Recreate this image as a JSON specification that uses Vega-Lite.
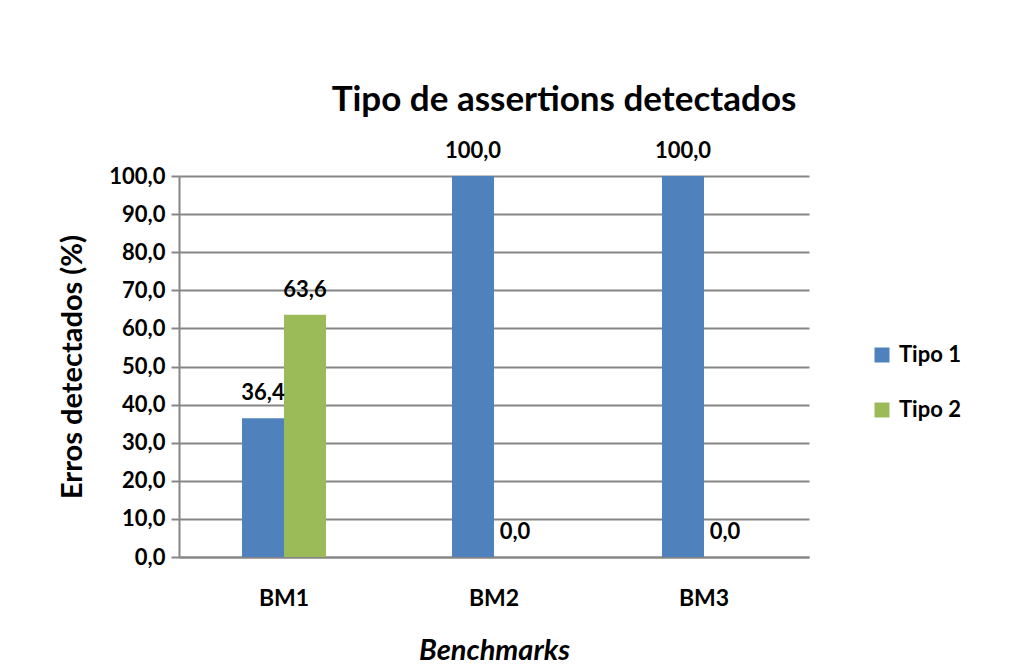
{
  "$schema": "https://vega.github.io/schema/vega-lite/v6.json",
  "autosize": {"type": "none"},
  "padding": {"left": 179, "top": 176, "right": 217, "bottom": 111},
  "width": 630,
  "height": 381,
  "background": "white",
  "config": {
    "locale": {"number": {"decimal": ",", "thousands": ".", "grouping": [3], "currency": ["", ""]}},
    "font": "Lato",
    "view": {"stroke": null}
  },
  "title": {
    "text": "Tipo de assertions detectados",
    "fontSize": 35,
    "fontWeight": "bold",
    "font": "Lato",
    "color": "black",
    "anchor": "middle",
    "dx": 70,
    "offset": 22
  },
  "data": {
    "values": [
      {"bm": "BM1", "tipo": "Tipo 1", "valor": 36.4},
      {"bm": "BM1", "tipo": "Tipo 2", "valor": 63.6},
      {"bm": "BM2", "tipo": "Tipo 1", "valor": 100.0},
      {"bm": "BM2", "tipo": "Tipo 2", "valor": 0.0},
      {"bm": "BM3", "tipo": "Tipo 1", "valor": 100.0},
      {"bm": "BM3", "tipo": "Tipo 2", "valor": 0.0}
    ]
  },
  "encoding": {
    "x": {
      "field": "bm", "type": "nominal",
      "scale": {"paddingInner": 0.6, "paddingOuter": 0.3},
      "axis": {
        "title": "Benchmarks", "titleFontStyle": "italic", "titleFontSize": 29, "titleFontWeight": "bold", "titleColor": "black", "titlePadding": 26,
        "labelAngle": 0, "labelFontSize": 23, "labelFontWeight": "bold", "labelColor": "black", "labelPadding": 30,
        "ticks": false, "domainColor": "#868686", "domainWidth": 2, "grid": false
      }
    },
    "xOffset": {"field": "tipo", "type": "nominal"},
    "y": {
      "field": "valor", "type": "quantitative",
      "scale": {"domain": [0, 100]},
      "axis": {
        "title": "Erros detectados (%)", "titleFontSize": 29, "titleFontWeight": "bold", "titleColor": "black", "titlePadding": 21,
        "format": ".1f", "values": [0,10,20,30,40,50,60,70,80,90,100], "labelOverlap": false,
        "labelFontSize": 22, "labelFontWeight": "bold", "labelColor": "black", "labelPadding": 6,
        "tickSize": 8, "tickColor": "#868686", "tickWidth": 2,
        "domainColor": "#868686", "domainWidth": 2,
        "grid": true, "gridColor": "#868686", "gridWidth": 2
      }
    }
  },
  "layer": [
    {
      "mark": {"type": "bar"},
      "encoding": {
        "color": {
          "field": "tipo", "type": "nominal",
          "scale": {"domain": ["Tipo 1", "Tipo 2"], "range": ["#4F81BD", "#9BBB59"]},
          "legend": {
            "title": null, "orient": "none", "legendX": 692, "legendY": 168,
            "symbolType": "square", "symbolSize": 225, "symbolStrokeWidth": 0,
            "labelFontSize": 22, "labelFontWeight": "bold", "labelColor": "black",
            "rowPadding": 33, "labelOffset": 6
          }
        }
      }
    },
    {
      "mark": {"type": "text", "baseline": "bottom", "dy": -13, "fontSize": 22, "fontWeight": "bold", "color": "black"},
      "encoding": {
        "text": {"field": "valor", "type": "quantitative", "format": ".1f"}
      }
    }
  ]
}
